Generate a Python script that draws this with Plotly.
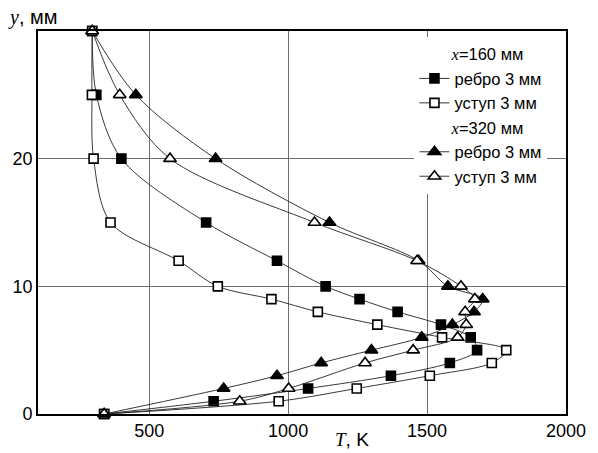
import plotly.graph_objects as go

# ---- data (T in K, y in mm) ----
sq_filled_y = [30, 25, 20, 15, 12, 10, 9, 8, 7, 6, 5, 4, 3, 2, 1, 0]
sq_filled_T = [295, 310, 400, 705, 960, 1135, 1257, 1394, 1550, 1657, 1680, 1582, 1370, 1072, 732, 338]

sq_open_y = [30, 25, 20, 15, 12, 10, 9, 8, 7, 6, 5, 4, 3, 2, 1, 0]
sq_open_T = [295, 294, 300, 361, 606, 747, 940, 1107, 1321, 1554, 1785, 1733, 1510, 1247, 966, 338]

tri_filled_y = [30, 25, 20, 15, 12, 10, 9, 8, 7, 6, 5, 4, 3, 2, 0]
tri_filled_T = [295, 452, 739, 1149, 1470, 1575, 1700, 1669, 1591, 1481, 1300, 1119, 960, 768, 338]

tri_open_y = [30, 25, 20, 15, 12, 10, 9, 8, 7, 6, 5, 4, 2, 1, 0]
tri_open_T = [295, 394, 575, 1095, 1464, 1622, 1672, 1637, 1641, 1610, 1450, 1277, 1002, 826, 338]

series_names = ["ребро 3 мм", "уступ 3 мм", "ребро 3 мм", "уступ 3 мм"]
group_titles = ["160 мм", "320 мм"]

x_ticks = [500, 1000, 1500, 2000]
y_ticks = [0, 10, 20]

SERIF = "Liberation Serif"
SANS = "Liberation Sans, Arial, sans-serif"
NB = "\u00a0"
LEG_FS = 16.5

def gtitle(t):
    return NB * 7 + f"<span style='font-family:{SERIF}'><i>x</i></span>={t}"

fig = go.Figure()

specs = [
    (sq_filled_T, sq_filled_y, "square", "black", 9, "g1", 0),
    (sq_open_T, sq_open_y, "square", "white", 9, "g1", 0),
    (tri_filled_T, tri_filled_y, "triangle-up", "black", 11, "g2", 1),
    (tri_open_T, tri_open_y, "triangle-up", "white", 11, "g2", 1),
]
for i, (T, y, sym, fill, size, grp, gi) in enumerate(specs):
    fig.add_trace(go.Scatter(
        x=T, y=y, mode="lines+markers",
        name=series_names[i],
        legendgroup=grp,
        legendgrouptitle=dict(text=gtitle(group_titles[gi]),
                              font=dict(size=LEG_FS, family=SANS, color="black")),
        line=dict(color="#222222", width=0.9, shape="spline", smoothing=0.9),
        marker=dict(symbol=sym, size=size, color=fill,
                    line=dict(color="black", width=1.6)),
        cliponaxis=False,
    ))

fig.update_layout(
    width=598, height=453,
    margin=dict(l=38, r=21, t=31, b=36),
    paper_bgcolor="white", plot_bgcolor="white",
    font=dict(family=SANS, size=18, color="black"),
    showlegend=True,
    legend=dict(
        x=0.713, y=0.985, xanchor="left", yanchor="top",
        bgcolor="white", borderwidth=0,
        font=dict(size=LEG_FS, family=SANS, color="black"),
        tracegroupgap=0, traceorder="grouped",
        itemwidth=30,
    ),
    xaxis=dict(
        range=[100, 2000], tickvals=x_ticks, ticktext=[str(v) for v in x_ticks],
        showgrid=True, gridcolor="#6e6e6e", gridwidth=1,
        showline=True, linecolor="black", linewidth=1.6, mirror=True,
        ticks="", zeroline=False, tickfont=dict(size=18),
    ),
    yaxis=dict(
        range=[0, 30], tickvals=y_ticks, ticktext=[str(v) for v in y_ticks],
        showgrid=True, gridcolor="#6e6e6e", gridwidth=1,
        showline=True, linecolor="black", linewidth=1.6, mirror=True,
        ticks="", zeroline=False, tickfont=dict(size=18),
    ),
    annotations=[
        dict(text=f"<span style='font-family:{SERIF}'><i>y</i></span>, мм",
             xref="paper", yref="paper", x=0, y=1, xanchor="left", yanchor="middle",
             xshift=-32, yshift=14, showarrow=False, font=dict(size=20, family=SANS)),
        dict(text=f"<span style='font-family:{SERIF}'><i>T</i></span>, K",
             xref="paper", yref="paper", x=0.594, y=0, xanchor="center", yanchor="top",
             yshift=-13, showarrow=False, font=dict(size=19, family=SANS)),
    ],
)

fig.write_html("out.html", config={"displayModeBar": False},
               post_script="document.body.style.margin='0px';")
